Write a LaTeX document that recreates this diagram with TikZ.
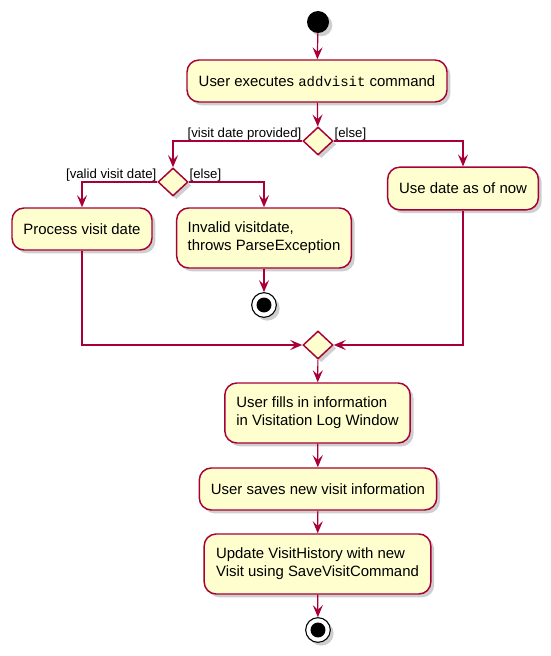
\documentclass[tikz,border=0pt]{standalone}
\usepackage{fontspec}
\setmainfont{Liberation Sans}
\setmonofont{Liberation Mono}
\usetikzlibrary{shapes.geometric,arrows.meta,shadows}
\definecolor{umlfill}{HTML}{FEFECE}
\definecolor{umlline}{HTML}{A80036}
\tikzset{
  shad/.style={drop shadow={opacity=0.38, shadow xshift=2.5pt, shadow yshift=-2.5pt}},
  act/.style={draw=umlline, fill=umlfill, line width=1.1pt, rounded corners=9pt, shad,
    inner sep=0pt, font=\fontsize{11.2}{13.5}\selectfont, align=left},
  dec/.style={diamond, draw=umlline, fill=umlfill, line width=1.1pt, inner sep=0pt, shad,
    minimum width=22.5pt, minimum height=21pt},
  startnode/.style={circle, fill=black, inner sep=0pt, minimum size=16.5pt, shad},
  stopnode/.style={circle, draw=black, fill=white, line width=0.8pt, inner sep=0pt, minimum size=18.5pt, shad,
    path picture={\fill[black] (path picture bounding box.center) circle (5.6pt);}},
  flow/.style={draw=umlline, line width=0.9pt, -{Stealth[length=9pt, width=7.5pt, inset=3.5pt]}},
  guard/.style={font=\fontsize{9.9}{11}\selectfont, inner sep=0.5pt}
}
\begin{document}
\begin{tikzpicture}[x=0.75pt,y=-0.75pt]
\useasboundingbox (0,0) rectangle (550,656);
\node[startnode] (start) at (318,22) {};
\node[act, minimum width=195pt, minimum height=31.5pt] (a1) at (317,81)
  {User executes {\fontsize{10.5}{12}\selectfont\ttfamily addvisit} command};
\node[dec] (d1) at (318,141) {};
\node[dec] (d2) at (173,182) {};
\node[act, minimum width=113pt, minimum height=32pt] (a2) at (463,188.5) {Use date as of now};
\node[act, minimum width=105pt, minimum height=31.5pt] (a3) at (82,229) {Process visit date};
\node[act, minimum width=131pt, minimum height=45pt] (a4) at (264,238) {Invalid visitdate,\\throws ParseException};
\node[stopnode] (stop1) at (264,305) {};
\node[dec] (d3) at (318,345) {};
\node[act, minimum width=139pt, minimum height=45pt] (a5) at (317.5,413) {User fills in information\\in Visitation Log Window};
\node[act, minimum width=178pt, minimum height=31.5pt] (a6) at (318,489) {User saves new visit information};
\node[act, minimum width=170pt, minimum height=45pt] (a7) at (317.5,564) {Update VisitHistory with new\\Visit using SaveVisitCommand};
\node[stopnode] (stop2) at (318,630) {};

\draw[flow] (start) -- (a1);
\draw[flow] (a1) -- (d1);
\draw[flow] (d1.west) -| (d2.north);
\draw[flow] (d1.east) -| (a2.north);
\draw[flow] (d2.west) -| (a3.north);
\draw[flow] (d2.east) -| (a4.north);
\draw[flow] (a4) -- (stop1);
\draw[flow] (a3.south) |- (d3.west);
\draw[flow] (a2.south) |- (d3.east);
\draw[flow] (d3) -- (a5);
\draw[flow] (a5) -- (a6);
\draw[flow] (a6) -- (a7);
\draw[flow] (a7) -- (stop2);

\node[guard, anchor=base east] (g1) at ([yshift=2.6pt]d1.west) {[visit date provided]};
\node[guard, anchor=base west] (g2) at ([yshift=2.6pt]d1.east) {[else]};
\node[guard, anchor=base east] (g3) at ([yshift=2.6pt]d2.west) {[valid visit date]};
\node[guard, anchor=base west] (g4) at ([yshift=2.6pt]d2.east) {[else]};
\end{tikzpicture}
\end{document}
